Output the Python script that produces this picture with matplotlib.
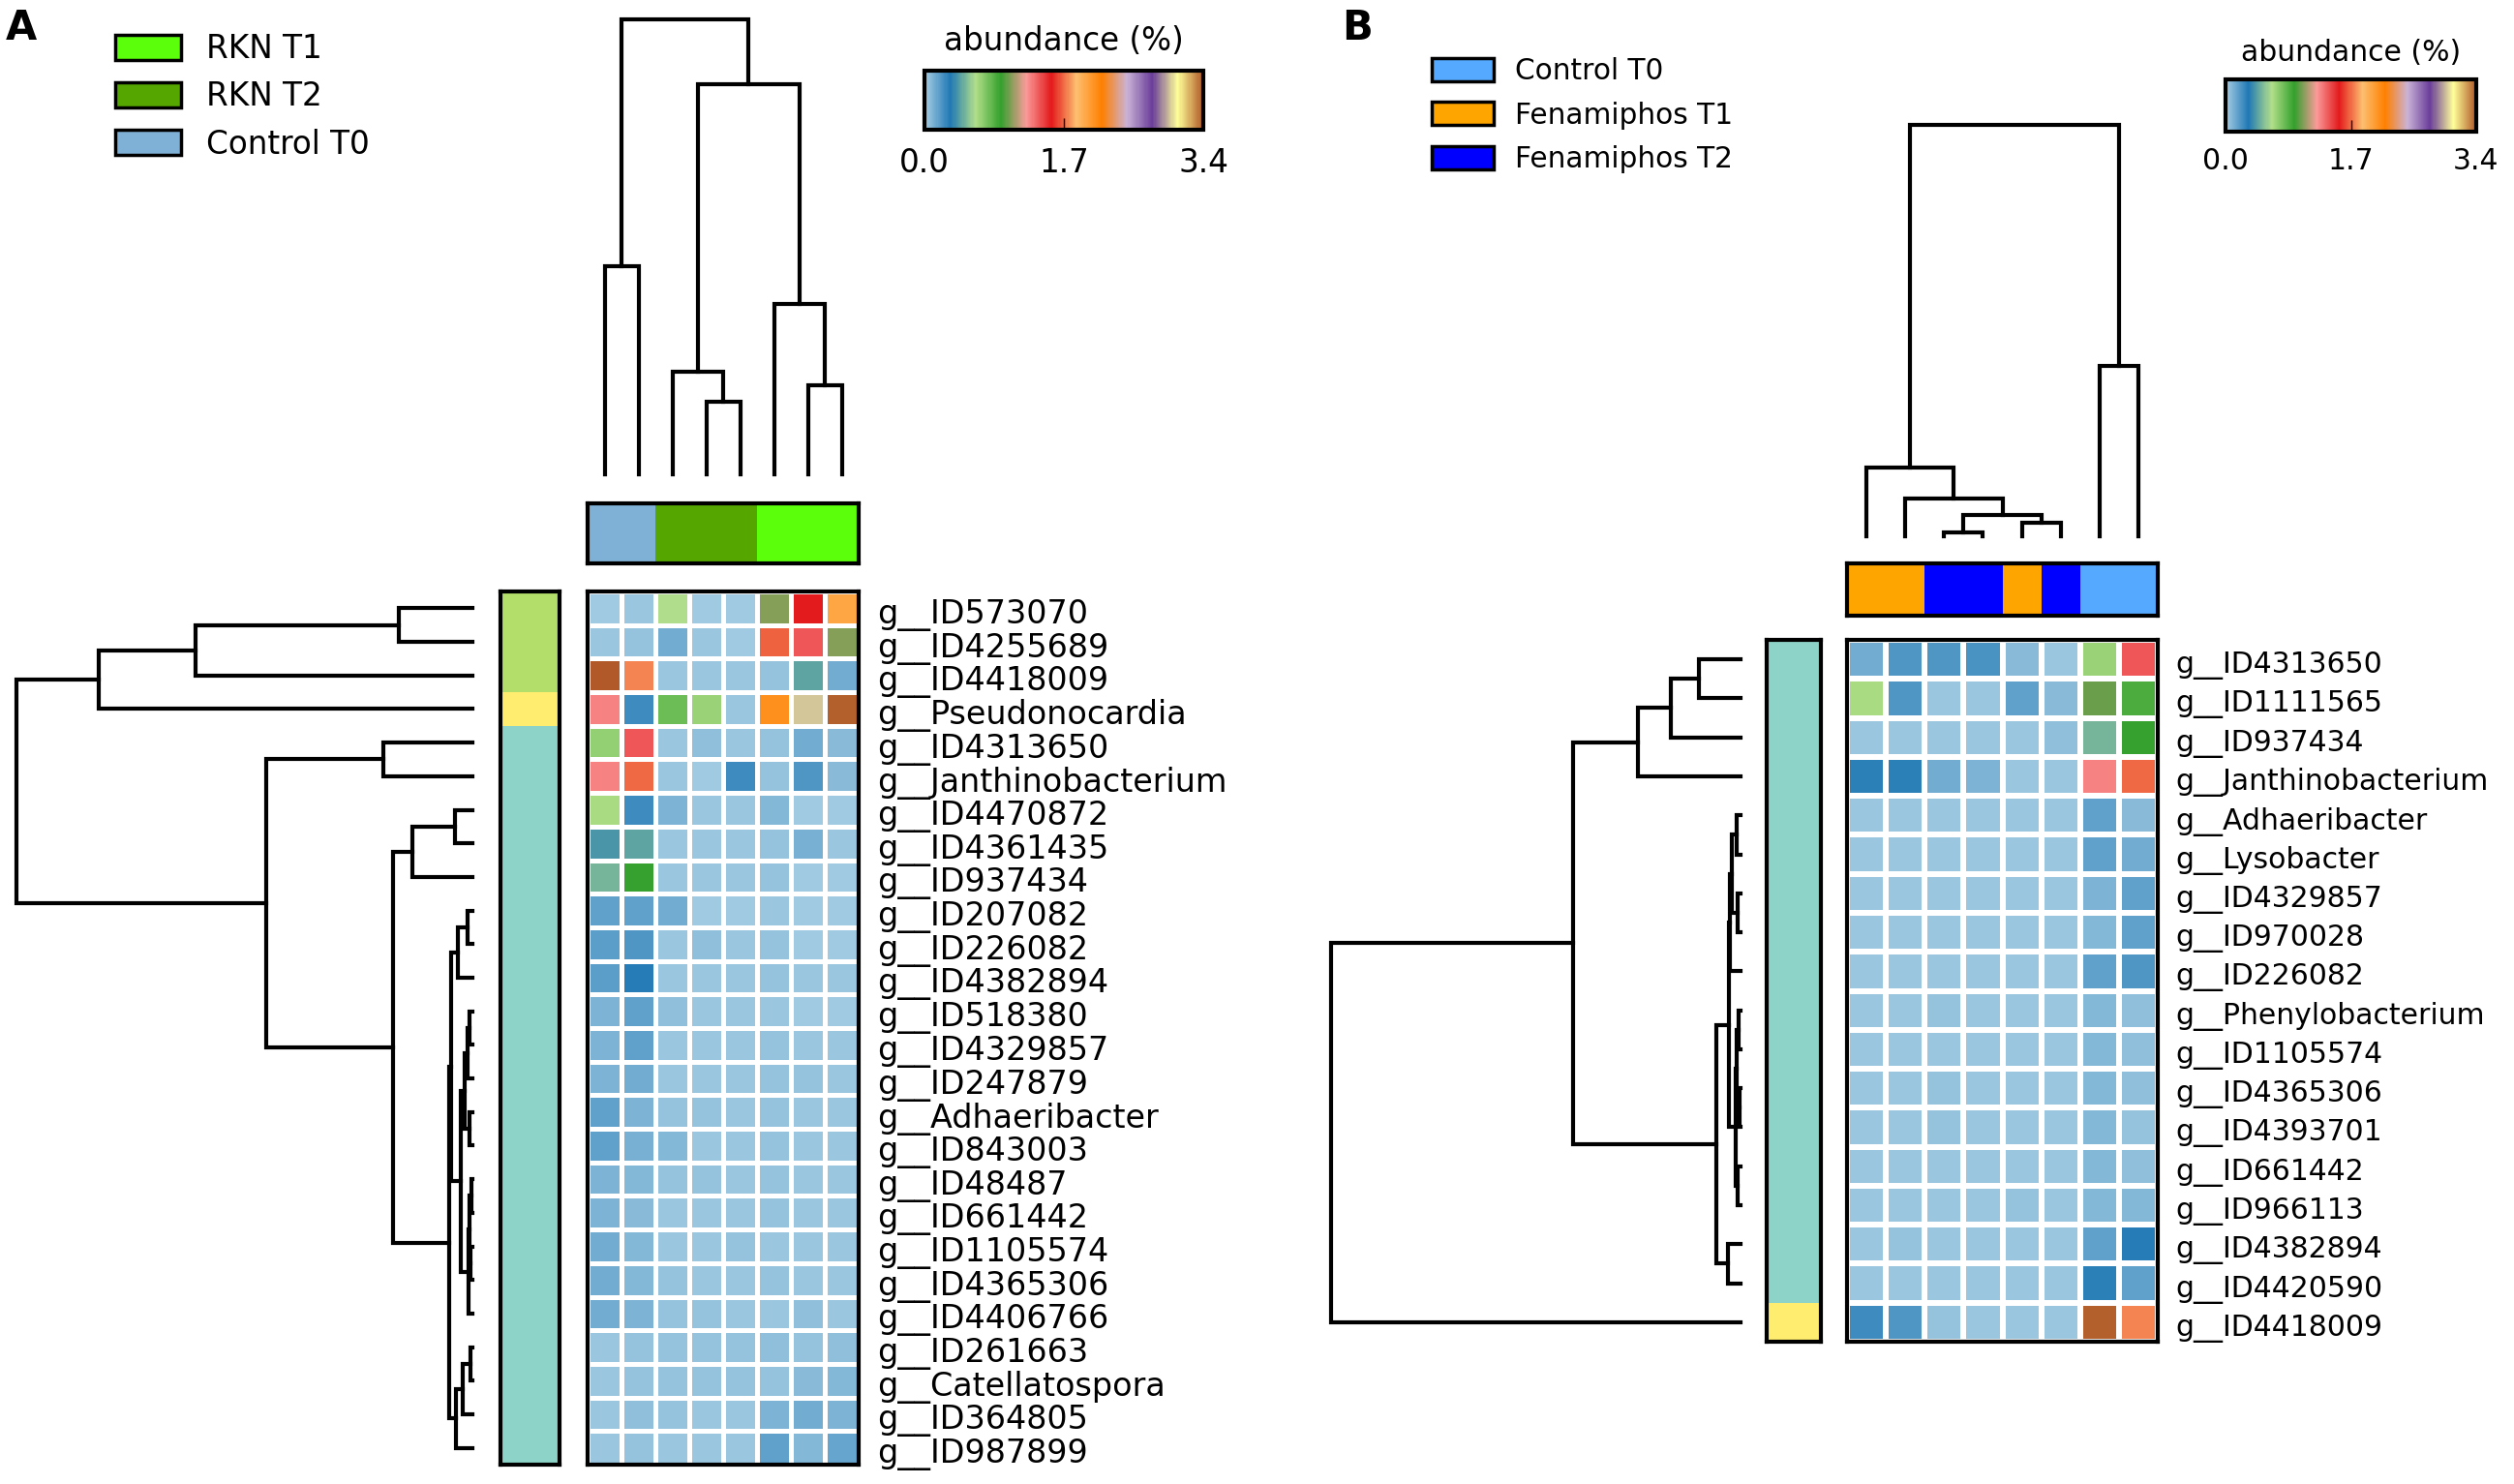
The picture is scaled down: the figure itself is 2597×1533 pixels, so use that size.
import numpy as np
import matplotlib
matplotlib.use("Agg")
import matplotlib.pyplot as plt
import matplotlib.colorbar as mcolorbar
import matplotlib.transforms as mtransforms
from matplotlib.colors import LinearSegmentedColormap, ListedColormap, Normalize
from matplotlib.patches import Patch

W, H = 2597, 1533

# ---------------- panel A data ----------------
a_rows = ["g__ID573070", "g__ID4255689", "g__ID4418009", "g__Pseudonocardia",
          "g__ID4313650", "g__Janthinobacterium", "g__ID4470872", "g__ID4361435",
          "g__ID937434", "g__ID207082", "g__ID226082", "g__ID4382894", "g__ID518380",
          "g__ID4329857", "g__ID247879", "g__Adhaeribacter", "g__ID843003", "g__ID48487",
          "g__ID661442", "g__ID1105574", "g__ID4365306", "g__ID4406766", "g__ID261663",
          "g__Catellatospora", "g__ID364805", "g__ID987899"]
a_values = [
    [0.02, 0.03, 0.62, 0.02, 0.02, 1.06, 1.545, 1.97],
    [0.03, 0.05, 0.12, 0.03, 0.02, 1.68, 1.40, 1.06],
    [3.40, 1.74, 0.03, 0.03, 0.03, 0.04, 0.44, 0.13],
    [1.30, 0.24, 0.79, 0.69, 0.03, 2.08, 3.00, 3.38],
    [0.70, 1.40, 0.03, 0.06, 0.03, 0.05, 0.13, 0.07],
    [1.30, 1.69, 0.03, 0.02, 0.24, 0.05, 0.21, 0.07],
    [0.64, 0.25, 0.10, 0.03, 0.03, 0.09, 0.02, 0.02],
    [0.40, 0.44, 0.03, 0.03, 0.03, 0.04, 0.11, 0.03],
    [0.50, 0.92, 0.03, 0.03, 0.03, 0.04, 0.02, 0.02],
    [0.17, 0.17, 0.12, 0.02, 0.02, 0.03, 0.02, 0.02],
    [0.18, 0.21, 0.03, 0.06, 0.03, 0.04, 0.02, 0.02],
    [0.18, 0.30, 0.03, 0.03, 0.03, 0.04, 0.03, 0.03],
    [0.10, 0.17, 0.06, 0.03, 0.03, 0.03, 0.02, 0.02],
    [0.10, 0.17, 0.03, 0.03, 0.03, 0.04, 0.03, 0.03],
    [0.10, 0.13, 0.03, 0.03, 0.03, 0.04, 0.05, 0.03],
    [0.17, 0.10, 0.04, 0.05, 0.03, 0.05, 0.03, 0.03],
    [0.17, 0.11, 0.08, 0.03, 0.03, 0.04, 0.03, 0.03],
    [0.10, 0.08, 0.04, 0.04, 0.03, 0.05, 0.03, 0.03],
    [0.10, 0.07, 0.03, 0.03, 0.03, 0.04, 0.03, 0.03],
    [0.12, 0.08, 0.03, 0.03, 0.04, 0.03, 0.03, 0.03],
    [0.12, 0.08, 0.04, 0.03, 0.03, 0.04, 0.03, 0.03],
    [0.12, 0.10, 0.04, 0.04, 0.03, 0.03, 0.06, 0.03],
    [0.03, 0.04, 0.04, 0.04, 0.04, 0.06, 0.05, 0.06],
    [0.03, 0.04, 0.04, 0.04, 0.04, 0.05, 0.07, 0.08],
    [0.03, 0.06, 0.04, 0.03, 0.03, 0.10, 0.13, 0.10],
    [0.03, 0.04, 0.03, 0.03, 0.03, 0.17, 0.08, 0.15],
]
a_row_groups = [1, 1, 1, 2] + [0] * 22
a_col_groups = ["Control T0", "Control T0", "RKN T2", "RKN T2", "RKN T2",
                "RKN T1", "RKN T1", "RKN T1"]
a_legend = ["RKN T1", "RKN T2", "Control T0"]
a_group_colors = {"RKN T1": "#5cff0b", "RKN T2": "#55a700", "Control T0": "#7fb1d6"}
# merges: (left, right, height); new ids continue after the leaves
a_col_links = [(3, 4, 75), (6, 7, 92), (2, 8, 106), (5, 9, 176), (0, 1, 215),
               (10, 11, 403), (12, 13, 470)]
a_row_links = [(0, 1, 76), (26, 2, 286), (27, 3, 386), (4, 5, 92), (6, 7, 18),
               (30, 8, 62), (9, 10, 5), (32, 11, 15), (12, 13, 3), (34, 14, 5),
               (15, 16, 3), (35, 36, 8), (17, 18, 1), (19, 20, 2), (38, 39, 3),
               (40, 21, 4), (37, 41, 12), (33, 42, 22), (22, 23, 2), (44, 24, 10),
               (45, 25, 17), (43, 46, 24), (31, 47, 82), (29, 48, 213), (28, 49, 471)]

# ---------------- panel B data ----------------
b_rows = ["g__ID4313650", "g__ID1111565", "g__ID937434", "g__Janthinobacterium",
          "g__Adhaeribacter", "g__Lysobacter", "g__ID4329857", "g__ID970028",
          "g__ID226082", "g__Phenylobacterium", "g__ID1105574", "g__ID4365306",
          "g__ID4393701", "g__ID661442", "g__ID966113", "g__ID4382894",
          "g__ID4420590", "g__ID4418009"]
b_values = [
    [0.12, 0.20, 0.21, 0.22, 0.07, 0.03, 0.68, 1.40],
    [0.64, 0.21, 0.03, 0.03, 0.17, 0.07, 1.01, 0.87],
    [0.03, 0.03, 0.03, 0.03, 0.03, 0.06, 0.50, 0.92],
    [0.28, 0.28, 0.12, 0.10, 0.03, 0.03, 1.30, 1.69],
    [0.03, 0.03, 0.03, 0.03, 0.03, 0.03, 0.17, 0.07],
    [0.03, 0.03, 0.03, 0.03, 0.03, 0.03, 0.17, 0.13],
    [0.03, 0.03, 0.03, 0.03, 0.03, 0.03, 0.10, 0.17],
    [0.03, 0.03, 0.03, 0.03, 0.03, 0.03, 0.08, 0.17],
    [0.03, 0.03, 0.03, 0.03, 0.03, 0.03, 0.17, 0.21],
    [0.03, 0.03, 0.04, 0.03, 0.03, 0.03, 0.08, 0.06],
    [0.03, 0.03, 0.03, 0.03, 0.03, 0.03, 0.08, 0.06],
    [0.03, 0.03, 0.04, 0.03, 0.03, 0.03, 0.08, 0.06],
    [0.03, 0.03, 0.05, 0.03, 0.03, 0.03, 0.08, 0.05],
    [0.03, 0.03, 0.03, 0.03, 0.03, 0.03, 0.08, 0.06],
    [0.03, 0.03, 0.03, 0.03, 0.05, 0.03, 0.08, 0.08],
    [0.03, 0.05, 0.03, 0.03, 0.03, 0.03, 0.17, 0.30],
    [0.03, 0.03, 0.03, 0.03, 0.03, 0.03, 0.28, 0.17],
    [0.25, 0.21, 0.05, 0.03, 0.03, 0.03, 3.38, 1.75],
]
b_row_groups = [0] * 17 + [2]
b_col_groups = ["Fenamiphos T1", "Fenamiphos T1", "Fenamiphos T2", "Fenamiphos T2",
                "Fenamiphos T1", "Fenamiphos T2", "Control T0", "Control T0"]
b_legend = ["Control T0", "Fenamiphos T1", "Fenamiphos T2"]
b_group_colors = {"Control T0": "#55aaff", "Fenamiphos T1": "#ffa500",
                  "Fenamiphos T2": "#0000ff"}
b_col_links = [(2, 3, 4), (4, 5, 14), (8, 9, 22), (1, 10, 39), (0, 11, 71),
               (6, 7, 176), (12, 13, 425)]
b_row_links = [(0, 1, 43), (18, 2, 72), (19, 3, 106), (4, 5, 4), (6, 7, 3),
               (21, 22, 9), (23, 8, 11), (9, 10, 2), (11, 12, 1.5), (25, 26, 4),
               (13, 14, 3), (27, 28, 5), (24, 29, 12), (15, 16, 13), (30, 31, 25),
               (20, 32, 173), (33, 17, 423)]

row_group_colors = ["#8dd3c7", "#b3de69", "#ffed6f"]
vmin, vmax = 0.0, 3.4
cbar_ticks = [0.0, 1.7, 3.4]

cmap = LinearSegmentedColormap.from_list("paired_smooth", plt.cm.Paired.colors)
norm = Normalize(vmin, vmax)


def box(x0, y0, x1, y1):
    return [x0 / W, 1 - y1 / H, (x1 - x0) / W, (y1 - y0) / H]


def draw_dendro(ax, links, n, side):
    pos = {i: i + 0.5 for i in range(n)}
    hgt = {i: 0.0 for i in range(n)}
    for k, (a, b, h) in enumerate(links):
        pa, pb = pos[a], pos[b]
        p = [pa, pa, pb, pb]
        d = [hgt[a], h, h, hgt[b]]
        if side == "top":
            ax.plot(p, d, color="black", lw=3, clip_on=False, solid_joinstyle="miter")
        else:
            ax.plot(d, p, color="black", lw=3, clip_on=False, solid_joinstyle="miter")
        pos[n + k] = (pa + pb) / 2
        hgt[n + k] = h
    top = max(l[2] for l in links)
    if side == "top":
        ax.set_xlim(0, n)
        ax.set_ylim(0, top)
    else:
        ax.set_ylim(n, 0)
        ax.set_xlim(top, 0)
    ax.axis("off")


def frame(ax):
    ax.set_xticks([])
    ax.set_yticks([])
    for s in ax.spines.values():
        s.set_linewidth(3)
        s.set_color("black")


def panel(fig, L, rows, values, row_groups, col_groups, legend_names, group_colors,
          col_links, row_links):
    vals = np.array(values)
    nr, nc = vals.shape

    ax = fig.add_axes(box(*L["heat"]))
    ax.pcolormesh(vals, cmap=cmap, norm=norm, edgecolors="white", linewidth=L["gap"])
    ax.set_xlim(0, nc)
    ax.set_ylim(nr, 0)
    frame(ax)
    ax.yaxis.tick_right()
    ax.set_yticks(np.arange(nr) + 0.5)
    ax.set_yticklabels(rows, fontsize=L["fs"])
    ax.tick_params(axis="y", length=0, pad=13.5)
    shift = mtransforms.ScaledTranslation(0, -3 / 100, fig.dpi_scale_trans)
    for lab in ax.get_yticklabels():
        lab.set_transform(lab.get_transform() + shift)

    rax = fig.add_axes(box(*L["rowcol"]))
    rax.pcolormesh(np.array(row_groups).reshape(-1, 1),
                   cmap=ListedColormap(row_group_colors), vmin=-0.5, vmax=2.5)
    rax.set_ylim(nr, 0)
    frame(rax)

    names = list(group_colors)
    cax = fig.add_axes(box(*L["colcol"]))
    cax.pcolormesh(np.array([[names.index(g) for g in col_groups]]),
                   cmap=ListedColormap([group_colors[g] for g in names]),
                   vmin=-0.5, vmax=len(names) - 0.5)
    frame(cax)

    dax = fig.add_axes(box(*L["coldend"]))
    draw_dendro(dax, col_links, nc, "top")
    lax = fig.add_axes(box(*L["rowdend"]))
    draw_dendro(lax, row_links, nr, "left")

    bax = fig.add_axes(box(*L["cbar"]))
    cb = mcolorbar.ColorbarBase(bax, cmap=cmap, norm=norm, orientation="horizontal",
                                ticks=cbar_ticks)
    cb.outline.set_linewidth(3)
    bax.set_xticklabels([f"{t:.1f}" for t in cbar_ticks])
    bax.tick_params(axis="x", direction="in", length=9, width=1,
                    labelsize=L["fs_cb"], pad=L["cb_pad"])
    bax.set_title("abundance (%)", fontsize=L["fs_cb"], pad=L["title_pad"])

    handles = [Patch(facecolor=group_colors[g], edgecolor="black", linewidth=2.5)
               for g in legend_names]
    fig.legend(handles, legend_names, loc="upper left",
               bbox_to_anchor=(L["leg"][0] / W, 1 - L["leg"][1] / H),
               frameon=False, fontsize=L["fs_leg"], borderpad=0, borderaxespad=0,
               handlelength=L["hl"], handleheight=L["hh"], handletextpad=L["htp"],
               labelspacing=L["ls"])

    fig.text(L["letter"][0] / W, 1 - L["letter"][1] / H, L["name"], fontsize=30,
             fontweight="bold", ha="left", va="top")


fig = plt.figure(figsize=(W / 100, H / 100), dpi=100)

layout_a = dict(
    name="A", letter=(6, 8),
    heat=(607, 611, 887, 1513), rowcol=(517, 611, 578, 1513),
    colcol=(607, 520, 887, 582), coldend=(607, 20, 887, 490),
    rowdend=(17, 611, 488, 1513), cbar=(955, 73, 1243, 134),
    gap=3.6, fs=24, fs_cb=23.5, cb_pad=13, title_pad=15,
    leg=(119, 34), fs_leg=23.5, hl=2.08, hh=0.85, htp=0.8, ls=0.50,
)
layout_b = dict(
    name="B", letter=(1386, 8),
    heat=(1908, 661, 2229, 1386), rowcol=(1825, 661, 1881, 1386),
    colcol=(1908, 582, 2229, 636), coldend=(1908, 129, 2229, 554),
    rowdend=(1375, 661, 1798, 1386), cbar=(2299, 82, 2558, 136),
    gap=3.2, fs=21.5, fs_cb=21.5, cb_pad=11.5, title_pad=14,
    leg=(1479, 59), fs_leg=21.3, hl=2.16, hh=0.88, htp=0.75, ls=0.56,
)

panel(fig, layout_a, a_rows, a_values, a_row_groups, a_col_groups, a_legend,
      a_group_colors, a_col_links, a_row_links)
panel(fig, layout_b, b_rows, b_values, b_row_groups, b_col_groups, b_legend,
      b_group_colors, b_col_links, b_row_links)

fig.savefig("out.png", dpi=100)
